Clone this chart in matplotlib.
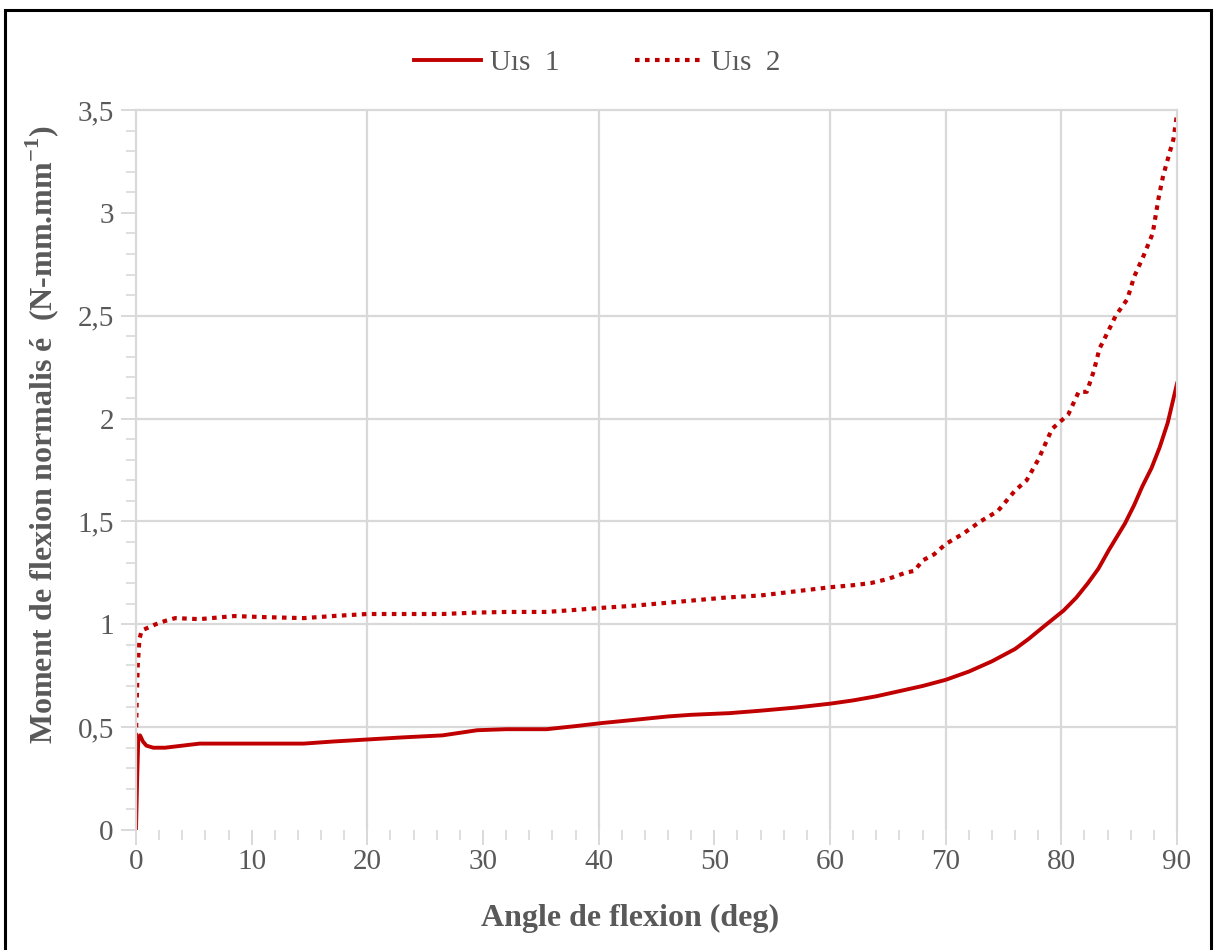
import matplotlib
matplotlib.use("Agg")
import matplotlib.pyplot as plt
from matplotlib.ticker import MultipleLocator, FixedLocator, FuncFormatter
from matplotlib.patches import Rectangle

# ---- data ----
x1 = [0, 0.1, 0.2, 0.35, 0.6, 0.9, 1.5, 2.5, 4, 5.5, 8.5, 12, 14.5, 17, 20, 23, 26.5,
      29.5, 32, 35.5, 38, 40.3, 43, 46, 48, 51.3, 54, 57, 60, 62, 64, 66, 68, 70, 72,
      74, 76, 77.2, 78.5, 80.2, 81.3, 82.3, 83.2, 84.1, 85.5, 86.3, 87, 87.8, 88.5, 89.2, 90]
y1 = [0, 0.25, 0.45, 0.46, 0.43, 0.41, 0.40, 0.40, 0.41, 0.42, 0.42, 0.42, 0.42, 0.43,
      0.44, 0.45, 0.46, 0.485, 0.49, 0.49, 0.505, 0.52, 0.535, 0.552, 0.56, 0.568, 0.58,
      0.595, 0.614, 0.63, 0.65, 0.675, 0.70, 0.73, 0.77, 0.82, 0.88, 0.93, 0.99, 1.067,
      1.13, 1.20, 1.27, 1.36, 1.49, 1.58, 1.67, 1.76, 1.86, 1.98, 2.17]

x2 = [0, 0.05, 0.15, 0.3, 0.5, 0.9, 1.7, 2.5, 3.4, 5.5, 8.5, 11, 14.5, 17, 20, 23, 26.5,
      29.5, 32, 35.5, 38, 40.3, 43, 46, 48, 51, 54, 57, 60, 62, 63.5, 65, 66.5, 67.3, 68,
      69, 70, 71.5, 73, 74.5, 76, 77, 78, 79.2, 80.6, 81.5, 82.2, 82.8, 83.3, 84.1, 84.7,
      85.7, 86.3, 87.1, 87.9, 88.4, 88.8, 89.3, 89.7, 90]
y2 = [0.45, 0.6, 0.8, 0.93, 0.97, 0.98, 1.0, 1.016, 1.03, 1.025, 1.04, 1.035, 1.03, 1.04,
      1.05, 1.05, 1.05, 1.057, 1.06, 1.06, 1.07, 1.08, 1.09, 1.105, 1.115, 1.13, 1.14, 1.16,
      1.18, 1.19, 1.20, 1.22, 1.25, 1.26, 1.31, 1.34, 1.39, 1.44, 1.50, 1.55, 1.65, 1.70,
      1.80, 1.95, 2.02, 2.13, 2.13, 2.23, 2.34, 2.43, 2.50, 2.58, 2.69, 2.79, 2.90, 3.07,
      3.18, 3.28, 3.36, 3.48]

series_names = ["U\u0131s  1", "U\u0131s  2"]
x_ticks = [0, 10, 20, 30, 40, 50, 60, 70, 80, 90]
y_ticks = [0, 0.5, 1, 1.5, 2, 2.5, 3, 3.5]
x_grid = [20, 40, 60, 70, 80]
y_grid = [0.5, 1, 1.5, 2, 2.5]
x_label = "Angle de flexion (deg)"
y_label = "Moment de flexion normalis é  (N-mm.mm$^{\\mathbf{-1}}$)"

# ---- style ----
RED = "#C00000"
GRAY_TXT = "#595959"
GRID = "#D9D9D9"
plt.rcParams["font.family"] = ["Liberation Serif", "DejaVu Serif"]
plt.rcParams["mathtext.fontset"] = "custom"
plt.rcParams["mathtext.rm"] = "Liberation Serif"
plt.rcParams["mathtext.bf"] = "Liberation Serif:bold"

W, H = 1215, 950
fig = plt.figure(figsize=(W / 100, H / 100), dpi=100)
ax_l, ax_r, ax_t, ax_b = 136, 1177, 110, 830
ax = fig.add_axes([ax_l / W, 1 - ax_b / H, (ax_r - ax_l) / W, (ax_b - ax_t) / H])

ax.plot(x1, y1, color=RED, lw=2.8, solid_joinstyle="round", label=series_names[0])
ax.plot(x2, y2, color=RED, lw=3.0, linestyle=(0, (1.1, 1.3)), dash_capstyle="butt",
        label=series_names[1])

ax.set_xlim(0, 90)
ax.set_ylim(0, 3.5)

for xv in x_grid:
    ax.axvline(xv, color=GRID, lw=1.6, zorder=0)
for yv in y_grid:
    ax.axhline(yv, color=GRID, lw=1.6, zorder=0)

for side in ["left", "right", "top"]:
    ax.spines[side].set_color(GRID)
    ax.spines[side].set_linewidth(1.6)
ax.spines["bottom"].set_visible(False)

ax.xaxis.set_major_locator(FixedLocator(x_ticks))
ax.yaxis.set_major_locator(FixedLocator(y_ticks))
ax.xaxis.set_minor_locator(MultipleLocator(2))
ax.yaxis.set_minor_locator(MultipleLocator(0.1))
ax.yaxis.set_major_formatter(FuncFormatter(lambda v, p: ("%g" % v).replace(".", ",")))
ax.xaxis.set_major_formatter(FuncFormatter(lambda v, p: "%d" % v))

ax.tick_params(axis="both", which="major", direction="out", length=11, width=1.4,
               color=GRID, labelcolor=GRAY_TXT, labelsize=21)
ax.tick_params(axis="both", which="minor", direction="out", length=7, width=1.2,
               color=GRID)
ax.tick_params(axis="y", which="major", pad=5)
ax.tick_params(axis="x", which="major", pad=3)

ax.set_xlabel(x_label, fontsize=23, fontweight="bold", color=GRAY_TXT)
ax.xaxis.set_label_coords((630 - ax_l) / (ax_r - ax_l), -(918 - ax_b) / (ax_b - ax_t))
ax.xaxis.label.set_va("center")
ax.set_ylabel(y_label, fontsize=23, fontweight="bold", color=GRAY_TXT)
ax.yaxis.set_label_coords(-(ax_l - 42) / (ax_r - ax_l), (ax_b - 435) / (ax_b - ax_t))
ax.yaxis.label.set_va("center")

leg = ax.legend(loc="center", bbox_to_anchor=(597 / W, 1 - 63 / H), bbox_transform=fig.transFigure,
                ncol=2, frameon=False, fontsize=21, handlelength=2.3, handletextpad=0.3,
                columnspacing=2.6)
for t in leg.get_texts():
    t.set_color(GRAY_TXT)

fig.patches.append(Rectangle((5 / W, -0.02), (1211 - 5) / W, 1.02 - 10 / H,
                             transform=fig.transFigure, fill=False, ec="black", lw=2.2))

fig.savefig("out.png", dpi=100)
